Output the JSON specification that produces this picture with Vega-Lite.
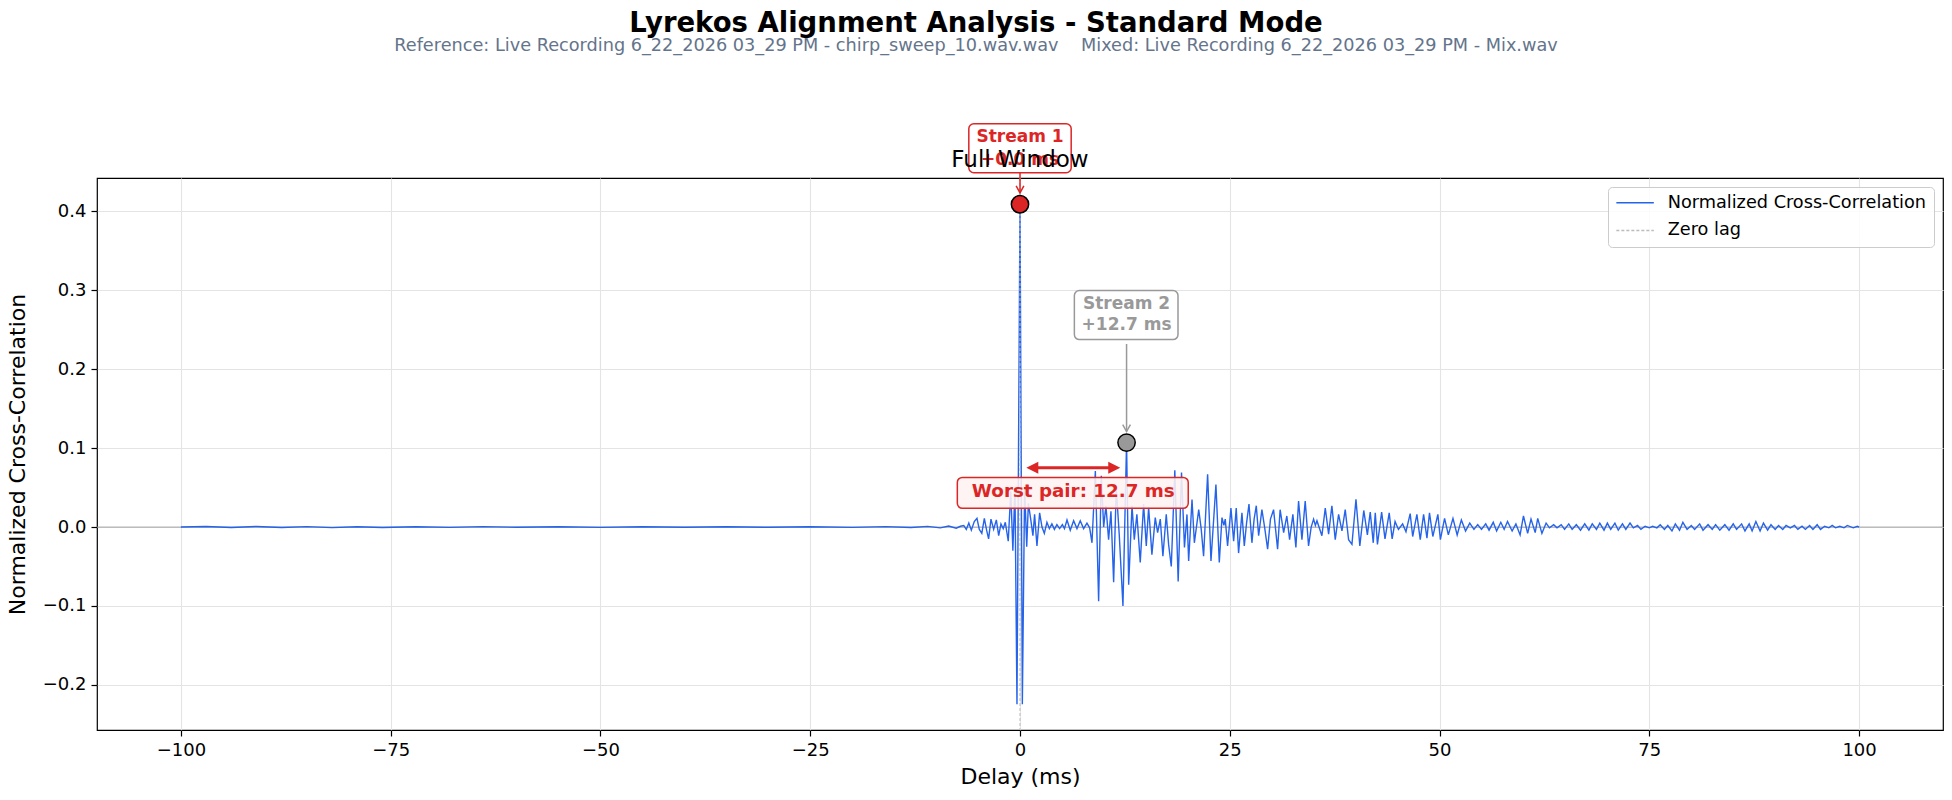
{
  "$schema": "https://vega.github.io/schema/vega-lite/v6.json",
  "description": "Cross-correlation of the reference and mixed recordings, full window.",
  "width": 1846,
  "height": 552,
  "autosize": "none",
  "padding": {"left": 97, "top": 178, "right": 9, "bottom": 70},
  "title": {
    "text": "Lyrekos Alignment Analysis - Standard Mode",
    "subtitle": "Reference: Live Recording 6_22_2026 03_29 PM - chirp_sweep_10.wav.wav\u00a0\u00a0\u00a0\u00a0Mixed: Live Recording 6_22_2026 03_29 PM - Mix.wav",
    "anchor": "middle",
    "frame": "group",
    "dx": -44,
    "offset": 68,
    "fontSize": 27.5,
    "fontWeight": "bold",
    "color": "#000000",
    "subtitleFontSize": 17.7,
    "subtitleColor": "#64748b",
    "subtitlePadding": 0
  },
  "datasets": {
    "one": [{}],
    "curve": [
      {"t": -100, "r": 0}, {"t": -97, "r": 0.0006}, {"t": -94, "r": -0.0005}, {"t": -91, "r": 0.0007},
      {"t": -88, "r": -0.0006}, {"t": -85, "r": 0.0005}, {"t": -82, "r": -0.0007}, {"t": -79, "r": 0.0004},
      {"t": -76, "r": -0.0005}, {"t": -72, "r": 0.0004}, {"t": -68, "r": -0.0004}, {"t": -64, "r": 0.0005},
      {"t": -60, "r": -0.0003}, {"t": -55, "r": 0.0004}, {"t": -50, "r": -0.0004}, {"t": -45, "r": 0.0003},
      {"t": -40, "r": -0.0003}, {"t": -35, "r": 0.0004}, {"t": -30, "r": -0.0003}, {"t": -25, "r": 0.0003},
      {"t": -20, "r": -0.0004}, {"t": -16, "r": 0.0005}, {"t": -13, "r": -0.0006}, {"t": -11, "r": 0.0008},
      {"t": -9.5, "r": -0.001}, {"t": -8.5, "r": 0.0012}, {"t": -7.6, "r": -0.0015}, {"t": -7.1, "r": 0.001},
      {"t": -6.7, "r": 0.002}, {"t": -6.4, "r": -0.003}, {"t": -6.1, "r": 0.005}, {"t": -5.8, "r": -0.004},
      {"t": -5.45, "r": 0.007}, {"t": -5.13, "r": 0.011}, {"t": -4.85, "r": -0.003}, {"t": -4.55, "r": -0.008},
      {"t": -4.25, "r": 0.011}, {"t": -3.98, "r": -0.004}, {"t": -3.74, "r": -0.015}, {"t": -3.46, "r": 0.01},
      {"t": -3.14, "r": -0.003}, {"t": -2.82, "r": 0.009}, {"t": -2.54, "r": -0.011}, {"t": -2.27, "r": 0.004},
      {"t": -2.0, "r": -0.002}, {"t": -1.75, "r": 0.006}, {"t": -1.4, "r": -0.018}, {"t": -1.1, "r": 0.045},
      {"t": -0.85, "r": -0.03}, {"t": -0.6, "r": 0.05}, {"t": -0.36, "r": -0.2245}, {"t": 0, "r": 0.409},
      {"t": 0.28, "r": -0.2245}, {"t": 0.55, "r": 0.05}, {"t": 0.8, "r": -0.025}, {"t": 1.0, "r": 0.03},
      {"t": 1.3, "r": 0.008}, {"t": 1.54, "r": -0.011}, {"t": 1.74, "r": 0.016}, {"t": 2.02, "r": -0.024},
      {"t": 2.34, "r": 0.018}, {"t": 2.62, "r": 0.0}, {"t": 2.9, "r": -0.008}, {"t": 3.21, "r": 0.006},
      {"t": 3.5, "r": -0.002}, {"t": 3.8, "r": 0.004}, {"t": 4.1, "r": -0.003}, {"t": 4.4, "r": 0.003},
      {"t": 4.72, "r": -0.002}, {"t": 5.05, "r": 0.003}, {"t": 5.3, "r": -0.002}, {"t": 5.6, "r": 0.009},
      {"t": 5.99, "r": -0.004}, {"t": 6.39, "r": 0.008}, {"t": 6.79, "r": -0.002}, {"t": 7.18, "r": 0.008},
      {"t": 7.58, "r": -0.002}, {"t": 7.98, "r": 0.005}, {"t": 8.3, "r": -0.001}, {"t": 8.58, "r": -0.02},
      {"t": 8.98, "r": 0.071}, {"t": 9.37, "r": -0.094}, {"t": 9.69, "r": 0.065}, {"t": 9.97, "r": 0.0},
      {"t": 10.24, "r": 0.027}, {"t": 10.56, "r": -0.016}, {"t": 10.84, "r": 0.02}, {"t": 11.16, "r": -0.07},
      {"t": 11.47, "r": 0.05}, {"t": 11.83, "r": -0.01}, {"t": 12.27, "r": -0.1}, {"t": 12.7, "r": 0.107},
      {"t": 12.95, "r": -0.073}, {"t": 13.35, "r": 0.027}, {"t": 13.62, "r": -0.016}, {"t": 13.93, "r": 0.016},
      {"t": 14.33, "r": -0.045}, {"t": 14.73, "r": 0.029}, {"t": 15.05, "r": -0.024}, {"t": 15.33, "r": 0.025},
      {"t": 15.72, "r": -0.035}, {"t": 16.12, "r": 0.012}, {"t": 16.4, "r": -0.007}, {"t": 16.72, "r": 0.01},
      {"t": 17.03, "r": -0.037}, {"t": 17.43, "r": 0.016}, {"t": 17.71, "r": -0.022}, {"t": 18.03, "r": -0.05},
      {"t": 18.45, "r": 0.072}, {"t": 18.85, "r": -0.069}, {"t": 19.25, "r": 0.069}, {"t": 19.6, "r": -0.026},
      {"t": 19.9, "r": 0.016}, {"t": 20.1, "r": -0.043}, {"t": 20.5, "r": 0.035}, {"t": 20.78, "r": -0.02},
      {"t": 21.3, "r": 0.022}, {"t": 21.6, "r": -0.003}, {"t": 21.88, "r": -0.037}, {"t": 22.36, "r": 0.067},
      {"t": 22.76, "r": -0.043}, {"t": 23.35, "r": 0.054}, {"t": 23.75, "r": -0.045}, {"t": 24.07, "r": 0.012},
      {"t": 24.3, "r": 0.002}, {"t": 24.46, "r": 0.01}, {"t": 24.74, "r": -0.024}, {"t": 25.14, "r": 0.024},
      {"t": 25.46, "r": -0.018}, {"t": 25.77, "r": 0.024}, {"t": 26.05, "r": -0.033}, {"t": 26.45, "r": 0.018},
      {"t": 26.73, "r": -0.024}, {"t": 27.0, "r": 0.005}, {"t": 27.29, "r": 0.029}, {"t": 27.64, "r": -0.02},
      {"t": 27.9, "r": 0.01}, {"t": 28.16, "r": 0.027}, {"t": 28.44, "r": -0.011}, {"t": 28.83, "r": 0.022},
      {"t": 29.15, "r": 0.0}, {"t": 29.51, "r": -0.028}, {"t": 29.85, "r": 0.01}, {"t": 30.22, "r": 0.022},
      {"t": 30.7, "r": -0.028}, {"t": 31.0, "r": 0.022}, {"t": 31.42, "r": -0.007}, {"t": 31.8, "r": 0.014},
      {"t": 32.13, "r": -0.016}, {"t": 32.52, "r": 0.016}, {"t": 32.88, "r": -0.026}, {"t": 33.2, "r": 0.033},
      {"t": 33.6, "r": -0.016}, {"t": 33.99, "r": 0.033}, {"t": 34.39, "r": -0.024}, {"t": 34.7, "r": 0.0},
      {"t": 34.99, "r": 0.01}, {"t": 35.2, "r": 0.002}, {"t": 35.39, "r": 0.008}, {"t": 35.98, "r": -0.011},
      {"t": 36.38, "r": 0.024}, {"t": 36.78, "r": -0.009}, {"t": 37.17, "r": 0.027}, {"t": 37.57, "r": -0.016},
      {"t": 37.97, "r": 0.016}, {"t": 38.37, "r": -0.005}, {"t": 38.76, "r": 0.022}, {"t": 39.16, "r": -0.016},
      {"t": 39.56, "r": -0.022}, {"t": 40.04, "r": 0.035}, {"t": 40.5, "r": -0.024}, {"t": 40.97, "r": 0.021},
      {"t": 41.4, "r": -0.01}, {"t": 41.74, "r": 0.019}, {"t": 42.1, "r": -0.02}, {"t": 42.34, "r": 0.018},
      {"t": 42.6, "r": -0.022}, {"t": 43.1, "r": 0.019}, {"t": 43.5, "r": -0.015}, {"t": 44.0, "r": 0.018},
      {"t": 44.35, "r": -0.015}, {"t": 44.7, "r": 0.007}, {"t": 45.1, "r": -0.003}, {"t": 45.6, "r": 0.004},
      {"t": 46.0, "r": -0.006}, {"t": 46.5, "r": 0.017}, {"t": 46.8, "r": -0.012}, {"t": 47.3, "r": 0.016},
      {"t": 47.7, "r": -0.016}, {"t": 48.1, "r": 0.016}, {"t": 48.5, "r": -0.014}, {"t": 48.8, "r": 0.018},
      {"t": 49.2, "r": -0.012}, {"t": 49.8, "r": 0.016}, {"t": 50.1, "r": -0.016}, {"t": 50.6, "r": 0.011},
      {"t": 51.05, "r": -0.01}, {"t": 51.6, "r": 0.011}, {"t": 52.1, "r": -0.01}, {"t": 52.6, "r": 0.009},
      {"t": 53.1, "r": -0.005}, {"t": 53.6, "r": 0.005}, {"t": 54.1, "r": -0.003}, {"t": 54.55, "r": 0.003},
      {"t": 55.0, "r": -0.003}, {"t": 55.5, "r": 0.004}, {"t": 55.9, "r": -0.004}, {"t": 56.4, "r": 0.006},
      {"t": 56.8, "r": -0.005}, {"t": 57.3, "r": 0.006}, {"t": 57.7, "r": -0.003}, {"t": 58.1, "r": 0.007},
      {"t": 58.65, "r": -0.005}, {"t": 59.1, "r": 0.004}, {"t": 59.6, "r": -0.01}, {"t": 60.0, "r": 0.014},
      {"t": 60.5, "r": -0.008}, {"t": 60.9, "r": 0.01}, {"t": 61.4, "r": -0.007}, {"t": 61.7, "r": 0.011},
      {"t": 62.2, "r": -0.008}, {"t": 62.7, "r": 0.005}, {"t": 63.1, "r": -0.001}, {"t": 63.6, "r": 0.003},
      {"t": 64.0, "r": -0.001}, {"t": 64.5, "r": 0.003}, {"t": 64.9, "r": -0.003}, {"t": 65.4, "r": 0.004},
      {"t": 65.8, "r": -0.003}, {"t": 66.3, "r": 0.003}, {"t": 66.8, "r": -0.004}, {"t": 67.3, "r": 0.004},
      {"t": 67.8, "r": -0.004}, {"t": 68.2, "r": 0.004}, {"t": 68.7, "r": -0.003}, {"t": 69.1, "r": 0.005},
      {"t": 69.6, "r": -0.004}, {"t": 70.0, "r": 0.005}, {"t": 70.4, "r": -0.003}, {"t": 70.9, "r": 0.005},
      {"t": 71.3, "r": -0.004}, {"t": 71.8, "r": 0.004}, {"t": 72.2, "r": -0.003}, {"t": 72.7, "r": 0.005},
      {"t": 73.1, "r": -0.001}, {"t": 73.6, "r": 0.002}, {"t": 74.0, "r": -0.003}, {"t": 74.5, "r": 0.001},
      {"t": 75.0, "r": -0.001}, {"t": 75.4, "r": 0.001}, {"t": 75.9, "r": -0.001}, {"t": 76.3, "r": 0.003},
      {"t": 76.8, "r": -0.003}, {"t": 77.2, "r": 0.002}, {"t": 77.7, "r": -0.005}, {"t": 78.1, "r": 0.004},
      {"t": 78.6, "r": -0.004}, {"t": 79.0, "r": 0.006}, {"t": 79.5, "r": -0.003}, {"t": 80.0, "r": 0.002},
      {"t": 80.4, "r": -0.003}, {"t": 81.0, "r": 0.004}, {"t": 81.4, "r": -0.004}, {"t": 82.0, "r": 0.003},
      {"t": 82.5, "r": -0.003}, {"t": 82.9, "r": 0.003}, {"t": 83.4, "r": -0.004}, {"t": 84.0, "r": 0.003},
      {"t": 84.5, "r": -0.004}, {"t": 85.0, "r": 0.004}, {"t": 85.4, "r": -0.003}, {"t": 86.0, "r": 0.004},
      {"t": 86.4, "r": -0.005}, {"t": 86.9, "r": 0.004}, {"t": 87.25, "r": -0.005}, {"t": 87.7, "r": 0.007},
      {"t": 88.2, "r": -0.005}, {"t": 88.6, "r": 0.005}, {"t": 89.1, "r": -0.004}, {"t": 89.5, "r": 0.003},
      {"t": 90.0, "r": -0.003}, {"t": 90.4, "r": 0.002}, {"t": 90.9, "r": -0.003}, {"t": 91.3, "r": 0.002},
      {"t": 91.8, "r": -0.001}, {"t": 92.3, "r": 0.002}, {"t": 92.7, "r": -0.003}, {"t": 93.2, "r": 0.001},
      {"t": 93.6, "r": -0.003}, {"t": 94.1, "r": 0.002}, {"t": 94.5, "r": -0.003}, {"t": 95.0, "r": 0.003},
      {"t": 95.4, "r": -0.003}, {"t": 95.9, "r": 0.001}, {"t": 96.4, "r": -0.001}, {"t": 96.8, "r": 0.002},
      {"t": 97.2, "r": -0.001}, {"t": 97.7, "r": 0.001}, {"t": 98.2, "r": -0.001}, {"t": 98.6, "r": 0.002},
      {"t": 99.3, "r": -0.001}, {"t": 99.8, "r": 0.001}, {"t": 100, "r": 0}
    ],
    "peaks": [
      {"stream": "Stream 1", "t": 0, "r": 0.409},
      {"stream": "Stream 2", "t": 12.7, "r": 0.107}
    ],
    "boxes": [
      {"stream": "Stream 1", "x0": -6.1, "x1": 6.1, "y0": 0.449, "y1": 0.511},
      {"stream": "Stream 2", "x0": 6.48, "x1": 18.83, "y0": 0.2375, "y1": 0.2996},
      {"stream": "Worst pair", "x0": -7.47, "x1": 20.05, "y0": 0.0237, "y1": 0.0629}
    ],
    "pointers": [
      {"stream": "Stream 1", "t": 0, "from": 0.449, "to": 0.4234},
      {"stream": "Stream 2", "t": 12.7, "from": 0.232, "to": 0.121}
    ],
    "labels": [
      {"stream": "Stream 1", "t": 0, "r": 0.4937, "label": "Stream 1"},
      {"stream": "Stream 1", "t": 0, "r": 0.4655, "label": "+0.0 ms"},
      {"stream": "Stream 2", "t": 12.7, "r": 0.2828, "label": "Stream 2"},
      {"stream": "Stream 2", "t": 12.7, "r": 0.2565, "label": "+12.7 ms"},
      {"stream": "Worst pair", "t": 6.35, "r": 0.0443, "label": "Worst pair: 12.7 ms"}
    ]
  },
  "encoding": {
    "x": {
      "type": "quantitative",
      "scale": {"domain": [-110, 110], "nice": false, "zero": false},
      "axis": {"values": [-100, -75, -50, -25, 0, 25, 50, 75, 100], "format": "d", "title": "Delay (ms)", "titlePadding": 7}
    },
    "y": {
      "type": "quantitative",
      "scale": {"domain": [-0.2572, 0.4423], "nice": false, "zero": false},
      "axis": {"values": [-0.2, -0.1, 0, 0.1, 0.2, 0.3, 0.4], "format": ".1f", "title": "Normalized Cross-Correlation", "titlePadding": 13}
    }
  },
  "layer": [
    {
      "data": {"name": "one"},
      "mark": {"type": "rule", "color": "#999999", "strokeWidth": 1.2, "opacity": 0.7},
      "encoding": {"y": {"datum": 0}}
    },
    {
      "data": {"name": "curve"},
      "mark": {"type": "line", "strokeWidth": 1.4},
      "encoding": {
        "x": {"field": "t"},
        "y": {"field": "r"},
        "color": {
          "datum": "Normalized Cross-Correlation",
          "type": "nominal",
          "scale": {"domain": ["Normalized Cross-Correlation", "Zero lag"], "range": ["#2563eb", "#bbbbbb"]},
          "legend": {
            "title": null,
            "encode": {
              "symbols": {
                "update": {
                  "stroke": {"scale": "color", "field": "value"},
                  "fill": {"value": "transparent"},
                  "strokeDash": {"signal": "datum.value === 'Zero lag' ? [3, 2] : [1, 0]"}
                }
              }
            }
          }
        }
      }
    },
    {
      "data": {"name": "one"},
      "mark": {"type": "rule", "strokeWidth": 1, "strokeDash": [3, 2]},
      "encoding": {"x": {"datum": 0}, "color": {"datum": "Zero lag", "type": "nominal"}}
    },
    {
      "data": {"name": "peaks"},
      "mark": {"type": "point", "shape": "circle", "filled": true, "size": 300, "opacity": 1, "stroke": "#000000", "strokeWidth": 1.5},
      "encoding": {
        "x": {"field": "t"},
        "y": {"field": "r"},
        "fill": {"condition": {"test": "datum.stream === 'Stream 1'", "value": "#dc2626"}, "value": "#999999"}
      }
    },
    {
      "data": {"name": "boxes"},
      "mark": {"type": "rect", "cornerRadius": 5, "strokeWidth": 1.5, "clip": false},
      "encoding": {
        "x": {"field": "x0"},
        "x2": {"field": "x1"},
        "y": {"field": "y0"},
        "y2": {"field": "y1"},
        "stroke": {"condition": {"test": "datum.stream === 'Stream 2'", "value": "#999999"}, "value": "#dc2626"},
        "fill": {"condition": {"test": "datum.stream === 'Worst pair'", "value": "#fef2f2"}, "value": "#ffffff"},
        "fillOpacity": {"condition": {"test": "datum.stream === 'Worst pair'", "value": 0.88}, "value": 0.95}
      }
    },
    {
      "data": {"name": "pointers"},
      "mark": {"type": "rule", "strokeWidth": 1.5, "clip": false},
      "encoding": {
        "x": {"field": "t"},
        "y": {"field": "from"},
        "y2": {"field": "to"},
        "color": {"condition": {"test": "datum.stream === 'Stream 2'", "value": "#999999"}, "value": "#dc2626"}
      }
    },
    {
      "data": {"name": "pointers"},
      "mark": {"type": "point", "shape": "M-0.55,-1L0,0L0.55,-1", "size": 196, "filled": false, "strokeWidth": 1.5, "opacity": 1, "clip": false},
      "encoding": {
        "x": {"field": "t"},
        "y": {"field": "to"},
        "stroke": {"condition": {"test": "datum.stream === 'Stream 2'", "value": "#999999"}, "value": "#dc2626"}
      }
    },
    {
      "data": {"name": "one"},
      "mark": {"type": "rule", "color": "#dc2626", "strokeWidth": 3},
      "encoding": {"x": {"datum": 1.3}, "x2": {"datum": 11.4}, "y": {"datum": 0.0752}}
    },
    {
      "data": {"name": "one"},
      "mark": {"type": "point", "shape": "M2,-1L0,0L2,1Z", "size": 144, "filled": true, "color": "#dc2626", "opacity": 1},
      "encoding": {"x": {"datum": 0.75}, "y": {"datum": 0.0752}}
    },
    {
      "data": {"name": "one"},
      "mark": {"type": "point", "shape": "M-2,-1L0,0L-2,1Z", "size": 144, "filled": true, "color": "#dc2626", "opacity": 1},
      "encoding": {"x": {"datum": 11.95}, "y": {"datum": 0.0752}}
    },
    {
      "data": {"name": "labels"},
      "mark": {"type": "text", "fontWeight": "bold", "baseline": "middle", "align": "center", "clip": false},
      "encoding": {
        "x": {"field": "t"},
        "y": {"field": "r"},
        "text": {"field": "label"},
        "color": {"condition": {"test": "datum.stream === 'Stream 2'", "value": "#999999"}, "value": "#dc2626"},
        "size": {"condition": {"test": "datum.stream === 'Worst pair'", "value": 18.3}, "value": 17}
      }
    },
    {
      "data": {"name": "one"},
      "mark": {"type": "text", "fontSize": 23, "color": "#000000", "baseline": "alphabetic", "align": "center", "clip": false},
      "encoding": {"x": {"datum": 0}, "y": {"datum": 0.4566}, "text": {"value": "Full Window"}}
    }
  ],
  "config": {
    "font": "DejaVu Sans",
    "view": {"stroke": "#000000", "strokeWidth": 1.2},
    "axis": {
      "domain": false,
      "grid": true,
      "gridColor": "#e4e4e4",
      "gridWidth": 1.1,
      "ticks": true,
      "tickColor": "#000000",
      "tickSize": 6,
      "tickWidth": 1.2,
      "labelFontSize": 18,
      "labelColor": "#000000",
      "labelPadding": 5,
      "titleFontSize": 22,
      "titleFontWeight": "normal",
      "titleColor": "#000000"
    },
    "legend": {
      "orient": "top-right",
      "offset": 9,
      "padding": 7,
      "strokeColor": "#cccccc",
      "fillColor": "rgba(255,255,255,0.85)",
      "cornerRadius": 4,
      "symbolType": "M-1,0L4,0",
      "symbolSize": 225,
      "symbolStrokeWidth": 1.5,
      "labelFontSize": 17.7,
      "labelColor": "#000000",
      "labelOffset": 35,
      "labelLimit": 400,
      "rowPadding": 8.6
    }
  }
}
